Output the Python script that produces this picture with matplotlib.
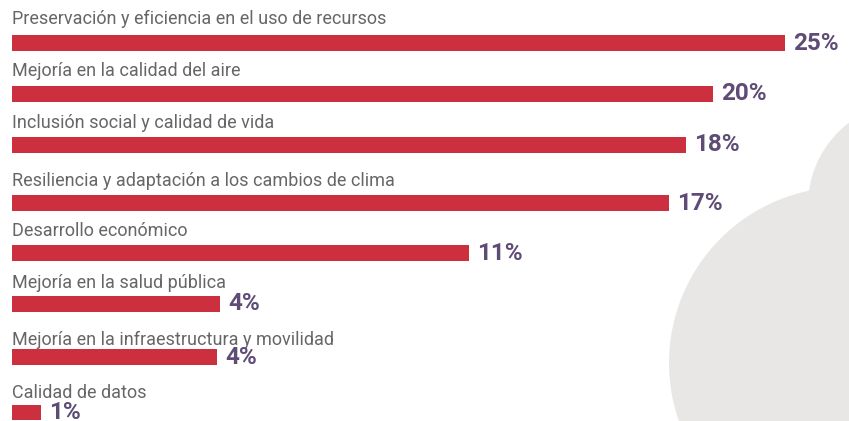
import matplotlib
matplotlib.use("Agg")
import matplotlib.pyplot as plt
from matplotlib.patches import Circle

# ---- data ----
categories = [
    "Preservación y eficiencia en el uso de recursos",
    "Mejoría en la calidad del aire",
    "Inclusión social y calidad de vida",
    "Resiliencia y adaptación a los cambios de clima",
    "Desarrollo económico",
    "Mejoría en la salud pública",
    "Mejoría en la infraestructura y movilidad",
    "Calidad de datos",
]
# bar lengths as drawn (in % units of the top bar)
bar_values = [25.0, 22.67, 21.8, 21.25, 14.78, 6.73, 6.62, 0.94]
pct_labels = ["25%", "20%", "18%", "17%", "11%", "4%", "4%", "1%"]

# ---- layout (pixels) ----
W, H = 849, 421
DPI = 100
x0_px = 12
px_per_unit = 773 / 25.0
bar_centers = [43, 94, 144.7, 203, 253, 304, 357, 412.5]
label_baselines = [24, 76, 127.5, 185.5, 236.5, 288, 345, 398]
bar_h = 15.8

RED = "#CC2F3D"
PURPLE = "#5E4C76"
GRAY = "#666666"
SHAPE = "#E8E7E6"

plt.rcParams["font.family"] = ["Roboto", "DejaVu Sans"]

fig = plt.figure(figsize=(W / DPI, H / DPI), dpi=DPI)
fig.patch.set_facecolor("white")

# background cloud shape in pixel coordinates
bg = fig.add_axes([0, 0, 1, 1])
bg.set_xlim(0, W)
bg.set_ylim(H, 0)
bg.axis("off")
bg.add_patch(Circle((845, 363), 176, color=SHAPE, lw=0))
bg.add_patch(Circle((911, 205), 103, color=SHAPE, lw=0))

ax = fig.add_axes([0, 0, 1, 1])
ax.patch.set_alpha(0)
ax.set_xlim(-x0_px / px_per_unit, (W - x0_px) / px_per_unit)
ax.set_ylim(H, 0)
ax.axis("off")

ax.barh(bar_centers, bar_values, height=bar_h, left=0, color=RED, lw=0)

for cat, val, lab, yc, yb in zip(categories, bar_values, pct_labels,
                                 bar_centers, label_baselines):
    ax.text(0, yb, cat, ha="left", va="baseline", fontsize=13, color=GRAY)
    ax.annotate(lab, xy=(val, yc), xytext=(6, 0), textcoords="offset points",
                ha="left", va="center", fontsize=17.5, fontweight="bold",
                color=PURPLE)

fig.savefig("out.png", dpi=DPI)
